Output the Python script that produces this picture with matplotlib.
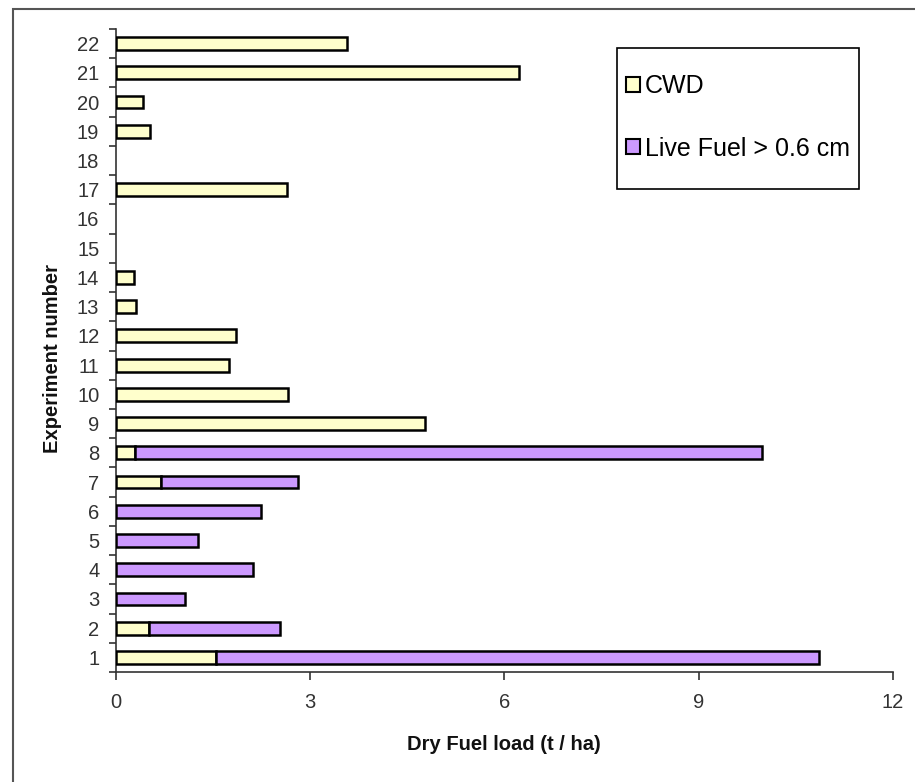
import matplotlib
matplotlib.use("Agg")
import matplotlib.pyplot as plt
from matplotlib.patches import Patch, Rectangle
import numpy as np

plt.rcParams['font.family'] = ['Liberation Sans', 'DejaVu Sans']

experiments = list(range(1, 23))
cwd = [1.54, 0.51, 0, 0, 0, 0, 0.69, 0.29, 4.77, 2.66, 1.75, 1.85, 0.31, 0.28,
       0, 0, 2.64, 0, 0.53, 0.42, 6.22, 3.57]
live = [9.32, 2.02, 1.07, 2.12, 1.27, 2.24, 2.12, 9.69, 0, 0, 0, 0, 0, 0,
        0, 0, 0, 0, 0, 0, 0, 0]
x_ticks = [0, 3, 6, 9, 12]
series_names = ["CWD", "Live Fuel > 0.6 cm"]
cwd_color = "#FFFFCC"
live_color = "#CC99FF"

fig = plt.figure(figsize=(9.15, 7.82), dpi=100)
ax = fig.add_axes([116/915, 1-672/782, (893-116)/915, (672-29)/782])

h = 0.44
lw = 1.8
y = np.array(experiments)
cwd_a = np.array(cwd)
live_a = np.array(live)
m1 = cwd_a > 0
ax.barh(y[m1], cwd_a[m1], height=h, color=cwd_color, edgecolor="black", linewidth=lw, zorder=3)
m2 = live_a > 0
ax.barh(y[m2], live_a[m2], left=cwd_a[m2], height=h, color=live_color, edgecolor="black", linewidth=lw, zorder=3)

ax.set_xlim(0, 12)
ax.set_ylim(0.5, 22.5)
ax.set_xticks(x_ticks)
ax.set_yticks(experiments)
ax.set_yticklabels([str(e) for e in experiments])
ax.set_yticks(np.arange(0.5, 23, 1), minor=True)
ax.tick_params(axis='y', which='major', length=0, pad=12, labelsize=14.5, labelcolor="#333333")
ax.tick_params(axis='y', which='minor', length=5, width=1.2, color="#333333", direction='out')
ax.tick_params(axis='x', which='major', length=6, width=1.2, color="#333333", direction='out',
               pad=9, labelsize=14.5, labelcolor="#333333")
for s in ['top', 'right']:
    ax.spines[s].set_visible(False)
for s in ['left', 'bottom']:
    ax.spines[s].set_color("#333333")
    ax.spines[s].set_linewidth(1.2)

fig.text(53/915, 1-359/782, "Experiment number", rotation=90, ha='center', va='center',
         fontsize=14.5, fontweight='bold', color="#111111")
fig.text(504/915, 1-744/782, "Dry Fuel load (t / ha)", ha='center', va='center',
         fontsize=14.5, fontweight='bold', color="#111111")

handles = [Patch(facecolor=cwd_color, edgecolor='black', linewidth=1.5),
           Patch(facecolor=live_color, edgecolor='black', linewidth=1.5)]
leg = ax.legend(handles, series_names, loc='upper left',
                bbox_to_anchor=((626-116)/777, (672-74)/643),
                fontsize=18, frameon=False, borderpad=0, labelspacing=1.55,
                handlelength=0.55, handleheight=0.55, handletextpad=0.22,
                borderaxespad=0)
leg.set_zorder(6)

# legend box
ax.add_patch(Rectangle(((617-116)/777, (672-189)/643), (859-617)/777, (189-48)/643,
                       transform=ax.transAxes, facecolor='white', edgecolor='black',
                       linewidth=1.2, zorder=5, clip_on=False))

fig.patches.append(Rectangle((13/915, -0.1), 1.2, 0.1 + (1-9/782), transform=fig.transFigure,
                             fill=False, edgecolor="#555555", linewidth=1.5))

fig.savefig("out.png", dpi=100)
